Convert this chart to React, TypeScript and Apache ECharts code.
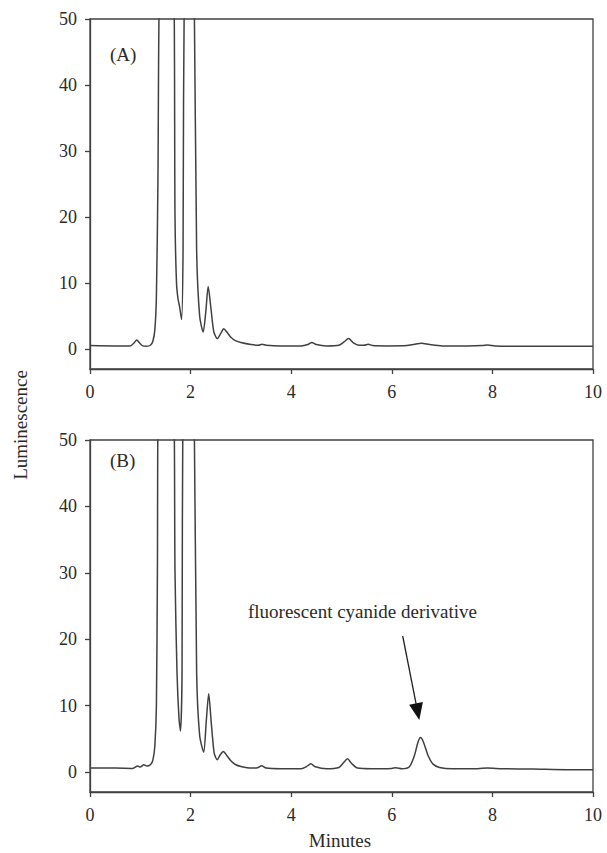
import React, { useEffect, useRef } from "react";
import * as echarts from "echarts";

// Panel A chromatogram (minutes, luminescence)
const timesA = [0, 0.5, 0.8, 0.87, 0.93, 0.99, 1.05, 1.12, 1.2, 1.25, 1.29, 1.32, 1.35, 1.38, 1.5, 1.66, 1.69, 1.72, 1.75, 1.78, 1.82, 1.85, 1.88, 2.0, 2.07, 2.12, 2.18, 2.25, 2.3, 2.35, 2.4, 2.46, 2.53, 2.6, 2.66, 2.72, 2.8, 2.9, 3.0, 3.2, 3.35, 3.42, 3.5, 3.8, 4.2, 4.33, 4.41, 4.5, 4.7, 4.95, 5.05, 5.14, 5.23, 5.35, 5.45, 5.53, 5.62, 5.9, 6.3, 6.45, 6.59, 6.75, 7.0, 7.5, 7.8, 7.91, 8.05, 8.5, 9.0, 9.5, 10];
const valuesA = [0.55, 0.5, 0.5, 0.9, 1.4, 0.9, 0.5, 0.45, 0.6, 1.2, 3, 8, 25, 55, 80, 60, 20, 10, 7.6, 6.5, 4.5, 15, 60, 80, 55, 15, 5, 2.6, 5.5, 9.5, 6.5, 2.7, 1.6, 2.4, 3.1, 2.6, 1.8, 1.25, 1.0, 0.7, 0.6, 0.75, 0.6, 0.5, 0.5, 0.7, 1.0, 0.7, 0.5, 0.6, 1.1, 1.6, 1.0, 0.6, 0.6, 0.75, 0.55, 0.5, 0.55, 0.75, 0.9, 0.7, 0.5, 0.5, 0.55, 0.65, 0.5, 0.45, 0.45, 0.45, 0.45];

// Panel B chromatogram
const timesB = [0, 0.5, 0.85, 0.95, 1.0, 1.07, 1.13, 1.2, 1.25, 1.29, 1.32, 1.34, 1.36, 1.5, 1.66, 1.69, 1.73, 1.77, 1.8, 1.83, 1.85, 2.0, 2.07, 2.12, 2.18, 2.26, 2.31, 2.36, 2.41, 2.47, 2.53, 2.59, 2.65, 2.72, 2.8, 2.9, 3.0, 3.2, 3.33, 3.41, 3.5, 3.8, 4.2, 4.3, 4.39, 4.48, 4.7, 4.95, 5.04, 5.12, 5.2, 5.32, 5.6, 6.0, 6.08, 6.2, 6.35, 6.45, 6.52, 6.57, 6.63, 6.72, 6.82, 6.95, 7.2, 7.6, 7.9, 8.2, 8.8, 9.5, 10];
const valuesB = [0.6, 0.6, 0.55, 0.9, 0.75, 1.1, 0.9, 1.1, 1.8, 4, 10, 30, 60, 80, 60, 30, 15, 8, 6.2, 15, 60, 80, 55, 15, 5.5, 3.0, 7.5, 11.8, 7.5, 2.8, 1.85, 2.6, 3.1, 2.5, 1.7, 1.1, 0.85, 0.6, 0.65, 0.95, 0.6, 0.5, 0.5, 0.8, 1.25, 0.8, 0.5, 0.7, 1.4, 2.0, 1.3, 0.6, 0.5, 0.55, 0.65, 0.5, 0.8, 2.5, 4.5, 5.2, 4.5, 2.5, 1.2, 0.7, 0.5, 0.5, 0.6, 0.5, 0.45, 0.35, 0.35];

const xTicks = [0, 2, 4, 6, 8, 10];
const yTicks = [0, 10, 20, 30, 40, 50];
const panelLabels = ["(A)", "(B)"];
const annotation = "fluorescent cyanide derivative";
const xTitle = "Minutes";
const yTitle = "Luminescence";

const FONT = "'Liberation Serif', 'Times New Roman', serif";
const INK = "#2a2a2a";
const LINE = "#404040";

function xAxisCfg(gridIndex: number) {
  return {
    type: "value" as const,
    gridIndex,
    min: xTicks[0],
    max: xTicks[xTicks.length - 1],
    interval: 2,
    axisLine: { show: true, onZero: false, lineStyle: { color: LINE, width: 1.3 } },
    axisTick: { show: true, inside: false, length: 5, lineStyle: { color: LINE, width: 1.3 } },
    axisLabel: { color: INK, fontFamily: FONT, fontSize: 18, margin: 14 },
    splitLine: { show: false },
  };
}

function yAxisCfg(gridIndex: number) {
  return {
    type: "value" as const,
    gridIndex,
    min: -3,
    max: 50,
    axisLine: { show: true, onZero: false, lineStyle: { color: LINE, width: 1.3 } },
    axisTick: { show: true, inside: false, length: 5, customValues: yTicks, lineStyle: { color: LINE, width: 1.3 } },
    axisLabel: { color: INK, fontFamily: FONT, fontSize: 18, margin: 13, customValues: yTicks },
    splitLine: { show: false },
  };
}

export default function App() {
  const ref = useRef<HTMLDivElement>(null);

  useEffect(() => {
    if (!ref.current) return;
    const chart = echarts.init(ref.current, undefined, { renderer: "svg" });

    const dataA = timesA.map((t, i) => [t, valuesA[i]]);
    const dataB = timesB.map((t, i) => [t, valuesB[i]]);

    // arrow geometry
    const tail = [402.7, 636];
    const tip = [419.3, 720];
    const dx = tip[0] - tail[0];
    const dy = tip[1] - tail[1];
    const len = Math.sqrt(dx * dx + dy * dy);
    const ux = dx / len;
    const uy = dy / len;
    const headLen = 17;
    const halfW = 7;
    const bx = tip[0] - ux * headLen;
    const by = tip[1] - uy * headLen;

    chart.setOption({
      animation: false,
      backgroundColor: "#ffffff",
      grid: [
        { left: 90, top: 19, width: 503, height: 350, show: true, borderColor: LINE, borderWidth: 1.3, backgroundColor: "transparent" },
        { left: 90, top: 440, width: 503, height: 352, show: true, borderColor: LINE, borderWidth: 1.3, backgroundColor: "transparent" },
      ],
      xAxis: [xAxisCfg(0), xAxisCfg(1)],
      yAxis: [yAxisCfg(0), yAxisCfg(1)],
      series: [
        {
          type: "line",
          xAxisIndex: 0,
          yAxisIndex: 0,
          data: dataA,
          showSymbol: false,
          clip: true,
          smooth: 0.25,
          lineStyle: { color: LINE, width: 1.5 },
        },
        {
          type: "line",
          xAxisIndex: 1,
          yAxisIndex: 1,
          data: dataB,
          showSymbol: false,
          clip: true,
          smooth: 0.25,
          lineStyle: { color: LINE, width: 1.5 },
        },
      ],
      graphic: [
        { type: "text", x: 110, y: 54, style: { text: panelLabels[0], font: `19px ${FONT}`, fill: INK, verticalAlign: "middle", align: "left" } },
        { type: "text", x: 110, y: 460, style: { text: panelLabels[1], font: `19px ${FONT}`, fill: INK, verticalAlign: "middle", align: "left" } },
        { type: "text", x: 248, y: 611, style: { text: annotation, font: `19px ${FONT}`, fill: INK, verticalAlign: "middle", align: "left" } },
        { type: "text", x: 340, y: 840, style: { text: xTitle, font: `19px ${FONT}`, fill: INK, verticalAlign: "middle", align: "center" } },
        { type: "text", x: 20, y: 425, rotation: Math.PI / 2, style: { text: yTitle, font: `19px ${FONT}`, fill: INK, verticalAlign: "middle", align: "center" } },
        { type: "line", shape: { x1: tail[0], y1: tail[1], x2: bx + ux * 2, y2: by + uy * 2 }, style: { stroke: "#222", lineWidth: 1.3 } },
        {
          type: "polygon",
          shape: { points: [[tip[0], tip[1]], [bx - uy * halfW, by + ux * halfW], [bx + uy * halfW, by - ux * halfW]] },
          style: { fill: "#111" },
        },
      ],
    });

    return () => chart.dispose();
  }, []);

  return <div ref={ref} style={{ position: "absolute", left: 0, top: 0, width: 607, height: 853 }} />;
}
